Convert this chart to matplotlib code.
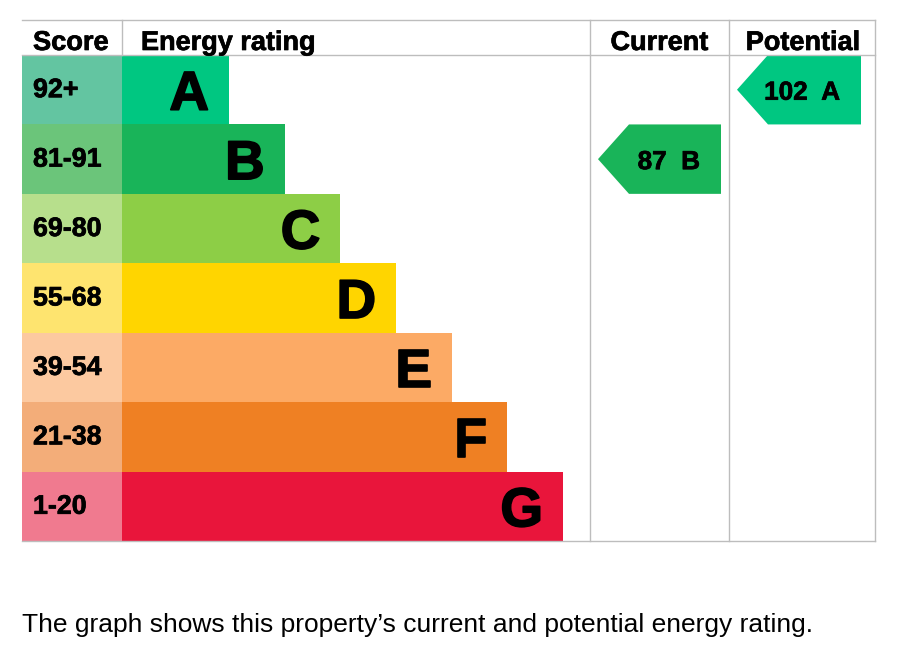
import matplotlib.pyplot as plt
from matplotlib.patches import Polygon
import matplotlib.patheffects as pe

# data
bands = ['A', 'B', 'C', 'D', 'E', 'F', 'G']
score_ranges = ['92+', '81-91', '69-80', '55-68', '39-54', '21-38', '1-20']
band_colors = ['#00c781', '#19b459', '#8dce46', '#ffd500', '#fcaa65', '#ef8023', '#e9153b']
score_colors = ['#63c5a1', '#6bc57a', '#b7df8c', '#fee46f', '#fcc9a0', '#f3ad79', '#f07a8f']
headers = ['Score', 'Energy rating', 'Current', 'Potential']
current_score, current_band = 87, 'B'
potential_score, potential_band = 102, 'A'
caption = 'The graph shows this property\u2019s current and potential energy rating.'

plt.rcParams['font.family'] = ['Liberation Sans', 'DejaVu Sans']

fig = plt.figure(figsize=(9.05, 6.64), dpi=100)
ax = fig.add_axes([0, 0, 1, 1])
ax.set_xlim(0, 905)
ax.set_ylim(664, 0)
ax.axis('off')

# layout (pixels)
left, score_w, bar_x0 = 22, 100, 122
cur_x0, pot_x0, right = 590, 729, 875
top, head_bot, bottom = 20, 55, 541
row_h = (bottom - head_bot) / len(bands)
bar_min, bar_step = 107, 55.67
grid = '#bdbdbd'

heavy = [pe.withStroke(linewidth=0.5, foreground='black')]
heavy_big = [pe.withStroke(linewidth=1.2, foreground='black')]

ys = [head_bot + i * row_h for i in range(len(bands))]
ax.barh(ys, [score_w] * len(bands), height=row_h, left=left, align='edge',
        color=score_colors, linewidth=0)
widths = [bar_min + i * bar_step for i in range(len(bands))]
ax.barh(ys, widths, height=row_h, left=bar_x0, align='edge',
        color=band_colors, linewidth=0)

for i, (b, s) in enumerate(zip(bands, score_ranges)):
    yc = ys[i] + row_h / 2
    ax.text(left + 11, yc + 7.5, s, fontsize=19.3, fontweight='bold', va='baseline',
            ha='left', path_effects=heavy)
    ax.text(bar_x0 + widths[i] - 20, yc + 20, b, fontsize=39.5, fontweight='bold',
            va='baseline', ha='right', path_effects=heavy_big)

# grid lines
for yy in (top, head_bot, bottom):
    ax.plot([left, right], [yy, yy], color=grid, lw=1)
ax.plot([bar_x0, bar_x0], [top, head_bot], color=grid, lw=1)
for xx in (cur_x0, pot_x0, right):
    ax.plot([xx, xx], [top, bottom], color=grid, lw=1)

# headers
hy = 50
ax.text(left + 11, hy, headers[0], fontsize=19.6, fontweight='bold', va='baseline',
        path_effects=heavy)
ax.text(bar_x0 + 19, hy, headers[1], fontsize=19.5, fontweight='bold', va='baseline',
        path_effects=heavy)
ax.text((cur_x0 + pot_x0) / 2, hy, headers[2], fontsize=19.5, fontweight='bold',
        va='baseline', ha='center', path_effects=heavy)
ax.text((pot_x0 + right) / 2 + 1, hy, headers[3], fontsize=19.5, fontweight='bold',
        va='baseline', ha='center', path_effects=heavy)


def arrow(x0, x1, band, score):
    i = bands.index(band)
    y0, y1 = ys[i], ys[i] + row_h
    notch = 31
    pts = [(x0, (y0 + y1) / 2), (x0 + notch, y0), (x1, y0), (x1, y1), (x0 + notch, y1)]
    ax.add_patch(Polygon(pts, closed=True, color=band_colors[i], lw=0))
    ax.text(x1 - 21, (y0 + y1) / 2 + 10, f'{score}  {band}', fontsize=18.8,
            fontweight='bold', va='baseline', ha='right', path_effects=heavy)


arrow(598, 721, current_band, current_score)
arrow(737, 861, potential_band, potential_score)

ax.text(left, 632, caption, fontsize=19, va='baseline', ha='left')

fig.savefig('out.png', dpi=100)
